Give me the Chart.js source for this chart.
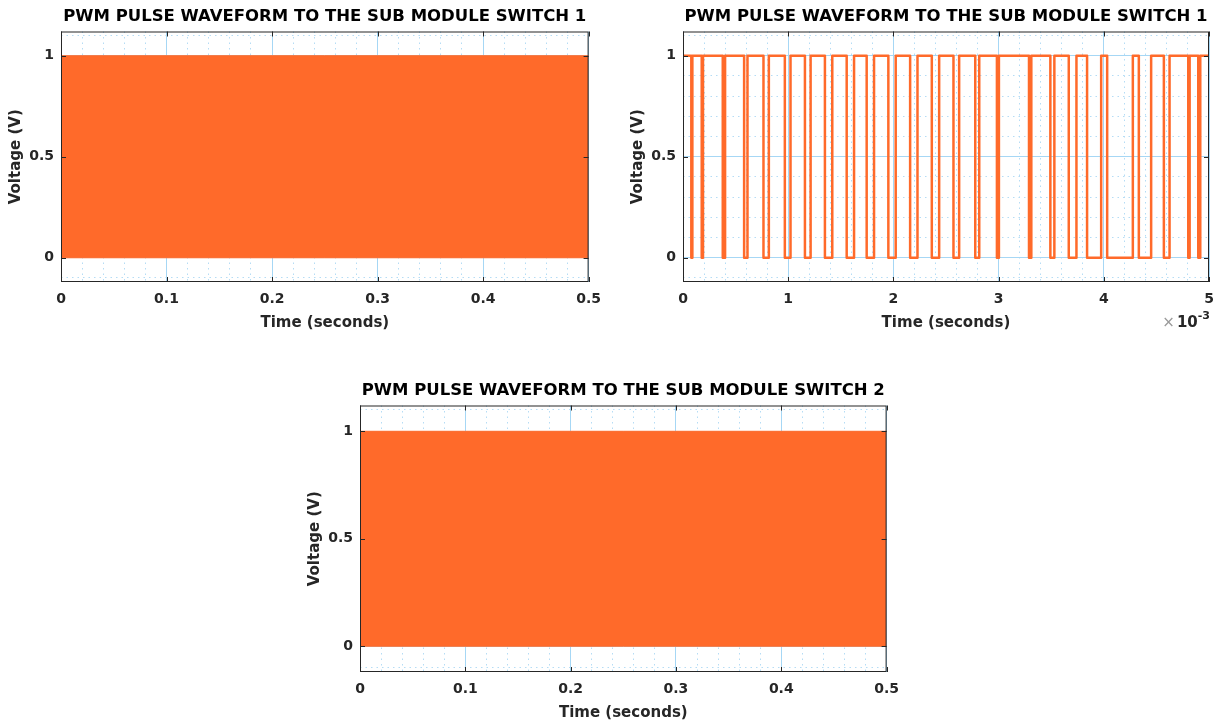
<!DOCTYPE html>
<html>
<head>
<meta charset="utf-8">
<script src="https://cdn.jsdelivr.net/npm/chart.js@4.4.1/dist/chart.umd.min.js"></script>
<style>
  html, body { margin: 0; padding: 0; background: #fff; overflow: hidden; }
  .plot { position: absolute; }
</style>
</head>
<body>
<div class="plot" style="left:0px;top:8px"><canvas id="chartFull1" width="610" height="324"></canvas></div>
<div class="plot" style="left:622px;top:8px"><canvas id="chartZoom1" width="602" height="324"></canvas></div>
<div class="plot" style="left:299px;top:382px"><canvas id="chartFull2" width="609" height="340"></canvas></div>
<script>
// full 0..0.5 s runs: the pulses are too dense to resolve, they read as a solid band 0..1
const fullTimeS = [0, 0.5];
const fullHigh = [1, 1];
const fullLow = [0, 0];

// first 5 ms of switch 1, signal starts high and toggles at each of these instants (ms)
const zoomEdgesMs = [
  0.079, 0.089, 0.178, 0.190, 0.378, 0.400, 0.581, 0.613, 0.765, 0.816,
  0.968, 1.022, 1.159, 1.213, 1.349, 1.419, 1.556, 1.626, 1.746, 1.816,
  1.952, 2.022, 2.159, 2.229, 2.365, 2.435, 2.571, 2.625, 2.778, 2.816,
  2.984, 3.003, 3.289, 3.311, 3.492, 3.530, 3.667, 3.740, 3.841, 3.975,
  4.032, 4.276, 4.333, 4.450, 4.571, 4.625, 4.803, 4.816, 4.898, 4.917,
];
const zoomStartLevel = 1;
const zoomEndMs = 5;

const fullXTicks = [0, 0.1, 0.2, 0.3, 0.4, 0.5];
const zoomXTicks = [0, 1, 2, 3, 4, 5];
const yTicks = [0, 0.5, 1];

const titles = [
  "PWM PULSE WAVEFORM TO THE SUB MODULE SWITCH 1",
  "PWM PULSE WAVEFORM TO THE SUB MODULE SWITCH 1",
  "PWM PULSE WAVEFORM TO THE SUB MODULE SWITCH 2",
];

const ORANGE = "#ff6a2a";
const GRID = "#a6d7f5";
const INK = "#262626";

Chart.defaults.font.family = "'DejaVu Sans', sans-serif";
Chart.defaults.font.weight = "bold";
Chart.defaults.color = INK;

function near(a, b) {
  return Math.abs(a - b) < 1e-9;
}

function isMajor(v, majors) {
  return majors.some((m) => near(m, v));
}

// major + minor tick positions for one axis
function tickList(from, to, minorStep) {
  let out = [];
  let n = Math.round((to - from) / minorStep);
  for (let i = 0; i <= n; i++) {
    out.push(+(from + i * minorStep).toFixed(6));
  }
  return out;
}

function stepPoints(edges, startLevel, endT) {
  let pts = [{ x: 0, y: startLevel }];
  let level = startLevel;
  edges.forEach((t) => {
    pts.push({ x: t, y: level });
    level = 1 - level;
    pts.push({ x: t, y: level });
  });
  pts.push({ x: endT, y: level });
  return pts;
}

const frame = {
  id: "frame",
  afterDraw(chart, args, opts) {
    const { ctx, chartArea: a, scales } = chart;
    ctx.save();
    ctx.strokeStyle = INK;
    ctx.lineWidth = 1;
    ctx.strokeRect(a.left + 0.5, a.top + 0.5, a.width - 1, a.height - 1);
    ctx.beginPath();
    opts.xMajors.forEach((v) => {
      const px = Math.round(scales.x.getPixelForValue(v)) + 0.5;
      ctx.moveTo(px, a.bottom);
      ctx.lineTo(px, a.bottom - 5);
      ctx.moveTo(px, a.top);
      ctx.lineTo(px, a.top + 5);
    });
    yTicks.forEach((v) => {
      const py = Math.round(scales.y.getPixelForValue(v)) + 0.5;
      ctx.moveTo(a.left, py);
      ctx.lineTo(a.left + 5, py);
      ctx.moveTo(a.right, py);
      ctx.lineTo(a.right - 5, py);
    });
    ctx.stroke();
    if (opts.exponent) {
      const x = a.right;
      const y = a.bottom + 45;
      ctx.textBaseline = "alphabetic";
      ctx.textAlign = "right";
      ctx.fillStyle = INK;
      ctx.font = "bold 11px 'DejaVu Sans'";
      ctx.fillText(opts.exponent, x + 1, y - 8);
      const expW = ctx.measureText(opts.exponent).width;
      ctx.font = "bold 15px 'DejaVu Sans'";
      ctx.fillText("10", x + 1 - expW, y);
      const tenW = ctx.measureText("10").width;
      ctx.fillStyle = "#9a9a9a";
      ctx.font = "15px 'DejaVu Sans'";
      ctx.fillText("\u00d7", x - 1 - expW - tenW, y);
    }
    ctx.restore();
  },
};

function axisOptions(min, max, gridFrom, gridTo, minorStep, majors, title, fmt) {
  const ticks = tickList(gridFrom, gridTo, minorStep);
  return {
    type: "linear",
    min: min,
    max: max,
    afterBuildTicks: (s) => {
      s.ticks = ticks.map((v) => ({ value: v }));
    },
    grid: {
      drawTicks: false,
      color: (c) => (c.tick && isMajor(c.tick.value, majors) ? GRID : "#b5dcf5"),
      lineWidth: 1,
    },
    border: {
      display: false,
      dash: (c) => (c.type === "tick" && !isMajor(c.tick.value, majors) ? [1.5, 4] : []),
    },
    ticks: {
      autoSkip: false,
      maxRotation: 0,
      font: { size: 14, weight: "bold" },
      color: INK,
      callback: (v) => (isMajor(v, majors) ? fmt(v) : ""),
    },
    title: {
      display: true,
      text: title,
      color: INK,
      font: { size: 15, weight: "bold", lineHeight: 1 },
    },
  };
}

function makeChart(id, titleText, datasets, xMax, xMinor, xMajors, xFmt, exponent, padRight) {
  const xAxis = axisOptions(0, xMax, 0, xMax, xMinor, xMajors, "Time (seconds)", xFmt);
  xAxis.ticks.padding = 9;
  xAxis.title.padding = { top: 0, bottom: 1 };
  xAxis.afterFit = (s) => {
    s.height = 50;
  };
  const yAxis = axisOptions(-0.12, 1.12, -0.1, 1.1, 0.1, yTicks, "Voltage (V)", (v) => String(v));
  yAxis.ticks.padding = 7;
  yAxis.title.padding = { top: 9, bottom: 0 };
  yAxis.afterFit = (s) => {
    s.width = 61;
  };

  return new Chart(document.getElementById(id), {
    type: "line",
    data: { datasets: datasets },
    options: {
      responsive: false,
      animation: false,
      events: [],
      layout: { padding: { left: 0, right: padRight, top: 0, bottom: 0 } },
      elements: { point: { radius: 0 } },
      scales: { x: xAxis, y: yAxis },
      plugins: {
        legend: { display: false },
        tooltip: { enabled: false },
        title: {
          display: true,
          text: titleText,
          fullSize: false,
          color: "#000",
          font: { size: 16.5, weight: "bold", lineHeight: 1 },
          padding: { top: 0, bottom: 7 },
        },
        frame: { xMajors: xMajors, exponent: exponent },
      },
    },
    plugins: [frame],
  });
}

function bandDatasets() {
  return [
    {
      label: "high",
      data: fullTimeS.map((t, i) => ({ x: t, y: fullHigh[i] })),
      borderColor: ORANGE,
      borderWidth: 1,
      backgroundColor: ORANGE,
      fill: false,
    },
    {
      label: "low",
      data: fullTimeS.map((t, i) => ({ x: t, y: fullLow[i] })),
      borderColor: ORANGE,
      borderWidth: 1,
      backgroundColor: ORANGE,
      fill: "-1",
    },
  ];
}

const fmtFull = (v) => (near(v, 0) ? "0" : v.toFixed(1));
const fmtZoom = (v) => String(Math.round(v));

makeChart("chartFull1", titles[0], bandDatasets(), 0.5, 0.02, fullXTicks, fmtFull, null, 20);

makeChart(
  "chartZoom1",
  titles[1],
  [
    {
      label: "switch 1",
      data: stepPoints(zoomEdgesMs, zoomStartLevel, zoomEndMs),
      borderColor: ORANGE,
      borderWidth: 2.5,
      borderJoinStyle: "round",
      borderCapStyle: "round",
      fill: false,
    },
  ],
  5, 0.2, zoomXTicks, fmtZoom, "-3", 15
);

makeChart("chartFull2", titles[2], bandDatasets(), 0.5, 0.02, fullXTicks, fmtFull, null, 20);
</script>
</body>
</html>
